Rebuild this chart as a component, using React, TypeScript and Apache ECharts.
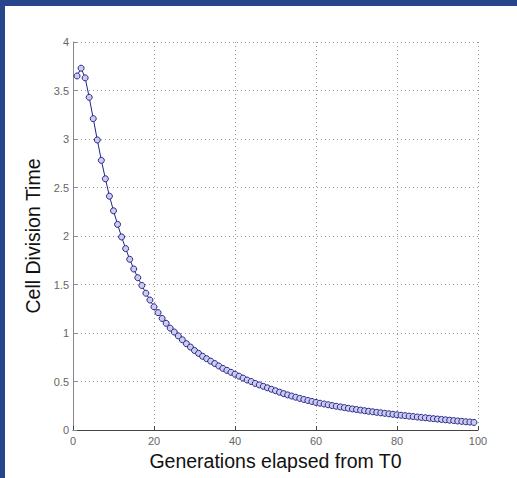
import React, { useEffect, useRef } from "react";
import * as echarts from "echarts";

const generations: number[] = Array.from({ length: 99 }, (_, i) => i + 1);

const divisionTime: number[] = [
  3.65, 3.73, 3.63, 3.43, 3.21, 2.99, 2.78, 2.59, 2.41, 2.26,
  2.12, 1.99, 1.87, 1.76, 1.66, 1.57, 1.49, 1.41, 1.34, 1.27,
  1.21, 1.15, 1.10, 1.05, 1.01, 0.97, 0.93, 0.89, 0.855, 0.82,
  0.79, 0.76, 0.735, 0.71, 0.685, 0.66, 0.635, 0.615, 0.595, 0.575,
  0.555, 0.535, 0.515, 0.50, 0.48, 0.465, 0.45, 0.435, 0.42, 0.405,
  0.39, 0.375, 0.362, 0.35, 0.338, 0.326, 0.315, 0.304, 0.294, 0.284,
  0.276, 0.268, 0.26, 0.252, 0.245, 0.238, 0.231, 0.224, 0.217, 0.211,
  0.205, 0.199, 0.193, 0.188, 0.182, 0.177, 0.172, 0.167, 0.162, 0.157,
  0.152, 0.148, 0.143, 0.139, 0.134, 0.13, 0.126, 0.121, 0.117, 0.113,
  0.109, 0.105, 0.101, 0.097, 0.093, 0.089, 0.085, 0.082, 0.078,
];

const xTitle = "Generations elapsed from T0";
const yTitle = "Cell Division Time";

export default function App() {
  const ref = useRef<HTMLDivElement>(null);
  useEffect(() => {
    document.body.style.margin = "0";
    document.body.style.overflow = "hidden";
    document.body.style.background = "#ffffff";
    if (!ref.current) return;
    const chart = echarts.init(ref.current, null, { renderer: "svg" });
    const data = generations.map((g, i) => [g, divisionTime[i]]);
    const font = "'Liberation Sans', Arial, Helvetica, sans-serif";
    chart.setOption({
      animation: false,
      backgroundColor: "transparent",
      grid: { left: 73, right: 39, top: 42, bottom: 48 },
      xAxis: {
        type: "value",
        min: 0,
        max: 100,
        interval: 20,
        name: xTitle,
        nameLocation: "middle",
        nameGap: 20,
        nameTextStyle: { fontSize: 19.5, color: "#111", fontFamily: font },
        axisLine: { show: true, onZero: false, lineStyle: { color: "#444", width: 1 } },
        axisTick: { show: true, inside: true, length: 4, lineStyle: { color: "#444" } },
        axisLabel: { fontSize: 11, color: "#666", margin: 5, fontFamily: font },
        splitLine: { show: true, lineStyle: { color: "#999", type: [1, 3], width: 1 } },
      },
      yAxis: {
        type: "value",
        min: 0,
        max: 4,
        interval: 0.5,
        name: yTitle,
        nameLocation: "middle",
        nameGap: 27,
        nameTextStyle: { fontSize: 19.5, color: "#111", fontFamily: font },
        axisLine: { show: true, onZero: false, lineStyle: { color: "#888", width: 1 } },
        axisTick: { show: true, inside: true, length: 4, lineStyle: { color: "#888" } },
        axisLabel: { fontSize: 11, color: "#666", margin: 4, fontFamily: font },
        splitLine: { show: true, lineStyle: { color: "#999", type: [1, 3], width: 1 } },
      },
      series: [
        {
          type: "line",
          data,
          symbol: "circle",
          symbolSize: 6,
          showSymbol: true,
          lineStyle: { color: "#22228c", width: 1 },
          itemStyle: { color: "#ccccec", borderColor: "#26268f", borderWidth: 1 },
        },
      ],
    });
    return () => chart.dispose();
  }, []);
  return (
    <div
      style={{
        position: "relative",
        width: 517,
        height: 478,
        overflow: "hidden",
        background: "#ffffff",
        borderTop: "6px solid #26458c",
        borderLeft: "5px solid #26458c",
        boxSizing: "border-box",
      }}
    >
      <div
        ref={ref}
        style={{ position: "absolute", left: -5, top: -6, width: 517, height: 478 }}
      />
    </div>
  );
}
